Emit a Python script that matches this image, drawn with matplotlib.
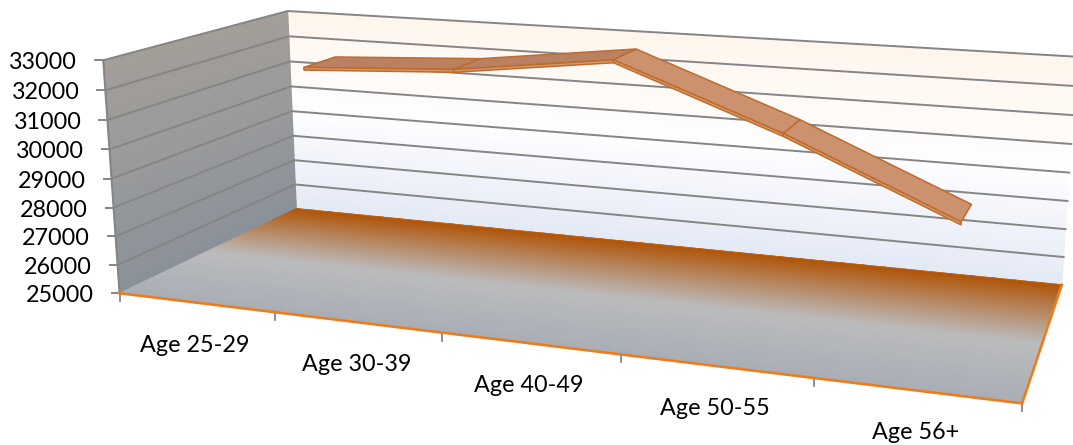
import numpy as np
import matplotlib
matplotlib.use('Agg')
import matplotlib.pyplot as plt
from matplotlib.colors import LinearSegmentedColormap
from matplotlib.patches import Polygon

categories = ['Age 25-29', 'Age 30-39', 'Age 40-49', 'Age 50-55', 'Age 56+']
values = [31650, 31950, 32660, 30540, 28050]
value_ticks = [25000, 26000, 27000, 28000, 29000, 30000, 31000, 32000, 33000]

VMIN = 25000.0
VMAX = 33000.0
NCAT = len(categories)

# where the corners of the 3d box land in the picture, used to fit the projection
box = [(0,0,0),(0,1,0),(0,0,1),(0,1,1),(1,0,1),(1,1,1),(1,0,0)]
pix = [(120,293),(103,60),(296,209),(288,11),(1062,284),(1077,57),(1022,404)]
A = []
for (x,v,d),(u,w) in zip(box,pix):
    A.append([x,v,d,1,0,0,0,0,-u*x,-u*v,-u*d,-u])
    A.append([0,0,0,0,x,v,d,1,-w*x,-w*v,-w*d,-w])
M = np.linalg.svd(np.array(A,float))[2][-1].reshape(3,4)

def proj(cat, val, d):
    # cat = category position 0..NCAT, val = data value, d = depth 0..1
    cat, val, d = np.broadcast_arrays(cat, val, d)
    P = np.stack([cat/NCAT, (val-VMIN)/(VMAX-VMIN), d, np.ones(cat.shape)], axis=-1)
    Q = P @ M.T
    return Q[...,0]/Q[...,2], Q[...,1]/Q[...,2]

plt.rcParams['font.family'] = ['Lato', 'DejaVu Sans']
fig = plt.figure(figsize=(10.73,4.45), dpi=100)
ax = fig.add_axes([0,0,1,1])
ax.set_xlim(0,1073)
ax.set_ylim(445,0)
ax.axis('off')

GRID = '#858585'
ORANGE = '#ed7d1c'
RIB_EDGE = '#bf6b2b'
FS = 16.8

# back wall
back_cm = LinearSegmentedColormap.from_list('back', [(0,'#e3e9f6'),(0.5,'#fefeff'),(1,'#fff5ec')])
c, t = np.meshgrid(np.linspace(0,NCAT,30), np.linspace(0,1,30))
X, Y = proj(c, VMIN+t*(VMAX-VMIN), 1.0)
ax.pcolormesh(X, Y, t, cmap=back_cm, shading='gouraud', zorder=1)

# left wall
left_cm = LinearSegmentedColormap.from_list('left', [(0,'#8b9199'),(0.5,'#989a9b'),(1,'#a39e98')])
d, t = np.meshgrid(np.linspace(0,1,30), np.linspace(0,1,30))
X, Y = proj(0.0, VMIN+t*(VMAX-VMIN), d)
ax.pcolormesh(X, Y, t, cmap=left_cm, shading='gouraud', zorder=1)

# floor
floor_cm = LinearSegmentedColormap.from_list('floor', [(0,'#a9aeb6'),(0.45,'#bbbcbd'),(1,'#b05508')])
c, d = np.meshgrid(np.linspace(0,NCAT,40), np.linspace(0,1,40))
X, Y = proj(c, VMIN, d)
ax.pcolormesh(X, Y, d, cmap=floor_cm, shading='gouraud', zorder=2)

# grid lines and value axis
for v in value_ticks:
    x0, y0 = proj(0.0, v, 0.0)
    x1, y1 = proj(0.0, v, 1.0)
    x2, y2 = proj(float(NCAT), v, 1.0)
    if v > VMIN:
        ax.plot([x0,x1,x2], [y0,y1,y2], color=GRID, lw=1.4, zorder=3, solid_joinstyle='miter')
    ax.plot([x0-8,x0], [y0,y0], color=GRID, lw=1.4, zorder=3)
    ax.text(x0-26, y0+2.5, str(v), ha='right', va='center', fontsize=FS, color='#000000', zorder=6)

xa, ya = proj(0.0, np.array([VMIN,VMAX]), 0.0)
ax.plot(xa, ya, color=GRID, lw=1.5, zorder=3)

# floor border
xf, yf = proj(np.array([0.0,NCAT,NCAT]), VMIN, np.array([0.0,0.0,1.0]))
ax.plot(xf, yf, color=ORANGE, lw=1.9, zorder=4, solid_joinstyle='miter')
xb, yb = proj(np.array([0.0,NCAT]), VMIN, 1.0)
ax.plot(xb, yb, color='#c0651a', lw=0.5, zorder=4)

# category ticks and labels
for i in range(NCAT+1):
    x0, y0 = proj(float(i), VMIN, 0.0)
    ax.plot([x0,x0], [y0,y0+8], color=GRID, lw=1.3, zorder=3)
for i, name in enumerate(categories):
    x0, y0 = proj(i+0.5, VMIN, 0.0)
    ax.text(x0-1, y0+42.5, name, ha='center', va='center', fontsize=FS, color='#000000', zorder=6)

# the 3d line, a flat ribbon with a thin front strip
D0 = 0.65
D1 = 0.85
THICK = 100
shades = ['#b98161', '#b98161', '#cc9270', '#cc9270']
for i in range(NCAT-1):
    ca = np.array([i+0.5, i+1.5])
    va = np.array([values[i], values[i+1]], float)
    xa0, ya0 = proj(ca, va, D0)
    xa1, ya1 = proj(ca, va, D1)
    xs0, ys0 = proj(ca, va-THICK, D0)
    ax.add_patch(Polygon(np.column_stack([np.r_[xa0,xa1[::-1]], np.r_[ya0,ya1[::-1]]]),
                         fc=shades[i], ec=RIB_EDGE, lw=1.1, zorder=5, joinstyle='round'))
    ax.add_patch(Polygon(np.column_stack([np.r_[xa0,xs0[::-1]], np.r_[ya0,ys0[::-1]]]),
                         fc='#d69a6c', ec=RIB_EDGE, lw=1.1, zorder=5, joinstyle='round'))

fig.savefig('out.png', dpi=100)
